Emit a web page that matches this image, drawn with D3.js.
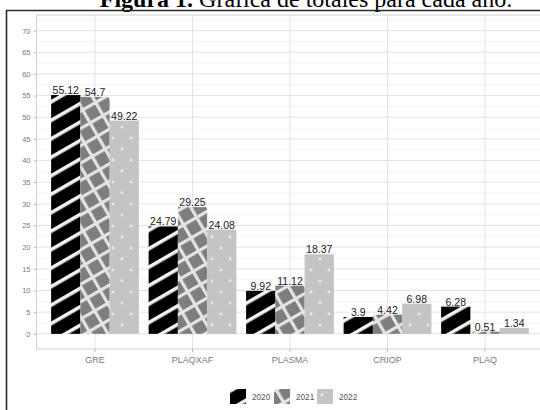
<!DOCTYPE html>
<html>
<head>
<meta charset="utf-8">
<script src="https://cdn.jsdelivr.net/npm/d3@7"></script>
<style>
  body { margin: 0; background: #fff; }
  svg { display: block; }
</style>
</head>
<body>
<div id="chart"></div>
<script>
// data
const categories = ['GRE', 'PLAQXAF', 'PLASMA', 'CRIOP', 'PLAQ'];
const years = ['2020', '2021', '2022'];
const values2020 = [55.12, 24.79, 9.92, 3.9, 6.28];
const values2021 = [54.7, 29.25, 11.12, 4.42, 0.51];
const values2022 = [49.22, 24.08, 18.37, 6.98, 1.34];
const yTicks = [0, 5, 10, 15, 20, 25, 30, 35, 40, 45, 50, 55, 60, 65, 70];

const width = 540, height = 410;
const series = [values2020, values2021, values2022];

const rows = [];
categories.forEach((c, i) => {
    years.forEach((yr, j) => rows.push({ cat: c, year: yr, value: series[j][i] }));
});

const svg = d3.select('#chart').append('svg')
    .attr('width', width)
    .attr('height', height);

// patterns for the three years
const defs = svg.append('defs');

const p1 = defs.append('pattern')
    .attr('id', 'pat2020')
    .attr('patternUnits', 'userSpaceOnUse')
    .attr('width', 16).attr('height', 16)
    .attr('patternTransform', 'rotate(-30)');
p1.append('rect').attr('width', 16).attr('height', 16).attr('fill', '#000');
p1.append('rect').attr('y', 0).attr('width', 16).attr('height', 3.6).attr('fill', '#f2f2f2');

const p2 = defs.append('pattern')
    .attr('id', 'pat2021')
    .attr('patternUnits', 'userSpaceOnUse')
    .attr('width', 15).attr('height', 15)
    .attr('patternTransform', 'rotate(-30)');
p2.append('rect').attr('width', 15).attr('height', 15).attr('fill', '#7e7e7e');
p2.append('rect').attr('y', 0).attr('width', 15).attr('height', 3.2).attr('fill', '#e4e4e4');
p2.append('rect').attr('x', 0).attr('width', 3.2).attr('height', 15).attr('fill', '#e4e4e4');

const p3 = defs.append('pattern')
    .attr('id', 'pat2022')
    .attr('patternUnits', 'userSpaceOnUse')
    .attr('width', 18).attr('height', 22);
p3.append('rect').attr('width', 18).attr('height', 22).attr('fill', '#c4c4c4');
p3.append('circle').attr('cx', 5).attr('cy', 6).attr('r', 1.4).attr('fill', '#e8e8e8');
p3.append('circle').attr('cx', 14).attr('cy', 17).attr('r', 1.4).attr('fill', '#e8e8e8');

const fillFor = { '2020': 'url(#pat2020)', '2021': 'url(#pat2021)', '2022': 'url(#pat2022)' };

// figure caption, mostly cut off above the image (as in the reference)
const cap = svg.append('text')
    .attr('x', 306)
    .attr('y', 7)
    .attr('text-anchor', 'middle')
    .style('font-family', '"Liberation Serif", "Times New Roman", serif')
    .style('font-size', '24px')
    .attr('fill', '#000');
cap.append('tspan').style('font-weight', 'bold').text('Figura 1.');
cap.append('tspan').text(' Gráfica de totales para cada año.');

// outer frame of the image
svg.append('path')
    .attr('d', `M6.5,${height} V10.5 H${width}`)
    .attr('fill', 'none')
    .attr('stroke', '#2a2a2a')
    .attr('stroke-width', 1.6);

// panel
const panel = { left: 36.5, right: 543.5, top: 15, bottom: 349 };

const y = d3.scaleLinear()
    .domain([-3.5, 73.6])
    .range([panel.bottom, panel.top]);

const x = d3.scaleBand()
    .domain(categories)
    .range([46.25, 533.75])
    .padding(0);

const xSub = d3.scaleBand()
    .domain(years)
    .range([0, x.bandwidth()])
    .paddingInner(0)
    .paddingOuter(1 / 6);

const g = svg.append('g');

// minor grid
g.selectAll('.ygrid-minor')
    .data(yTicks.map(t => t + 2.5))
    .enter().append('line')
    .attr('x1', panel.left).attr('x2', panel.right)
    .attr('y1', d => y(d)).attr('y2', d => y(d))
    .attr('stroke', '#f1f1f1').attr('stroke-width', 0.8);

// major grid
g.selectAll('.ygrid')
    .data(yTicks)
    .enter().append('line')
    .attr('x1', panel.left).attr('x2', panel.right)
    .attr('y1', d => y(d)).attr('y2', d => y(d))
    .attr('stroke', '#e3e3e3').attr('stroke-width', 1);

g.selectAll('.xgrid')
    .data(categories)
    .enter().append('line')
    .attr('x1', d => x(d) + x.bandwidth() / 2)
    .attr('x2', d => x(d) + x.bandwidth() / 2)
    .attr('y1', panel.top).attr('y2', panel.bottom)
    .attr('stroke', '#e3e3e3').attr('stroke-width', 1);

g.append('rect')
    .attr('x', panel.left).attr('y', panel.top)
    .attr('width', panel.right - panel.left)
    .attr('height', panel.bottom - panel.top)
    .attr('fill', 'none')
    .attr('stroke', '#cfcfcf');

// bars
g.selectAll('.bar')
    .data(rows)
    .enter().append('rect')
    .attr('class', 'bar')
    .attr('x', d => x(d.cat) + xSub(d.year))
    .attr('y', d => y(d.value))
    .attr('width', xSub.bandwidth())
    .attr('height', d => y(0) - y(d.value))
    .attr('fill', d => fillFor[d.year]);

// value labels
g.selectAll('.lbl')
    .data(rows)
    .enter().append('text')
    .attr('x', d => x(d.cat) + xSub(d.year) + xSub.bandwidth() / 2)
    .attr('y', d => y(d.value) - 1)
    .attr('text-anchor', 'middle')
    .style('font-family', '"Liberation Sans", Arial, sans-serif')
    .style('font-size', '10.5px')
    .attr('fill', '#222')
    .text(d => d.value);

// y axis
const yAxis = svg.append('g')
    .attr('transform', `translate(${panel.left},0)`)
    .call(d3.axisLeft(y).tickValues(yTicks).tickSize(3).tickPadding(3));
yAxis.select('.domain').remove();
yAxis.selectAll('line').attr('stroke', '#bdbdbd');
yAxis.selectAll('text')
    .style('font-family', '"Liberation Sans", Arial, sans-serif')
    .style('font-size', '7.5px')
    .attr('fill', '#7a7a7a');

// x axis
const xAxis = svg.append('g')
    .attr('transform', `translate(0,${panel.bottom})`)
    .call(d3.axisBottom(x).tickSize(3).tickPadding(5));
xAxis.select('.domain').remove();
xAxis.selectAll('line').attr('stroke', '#bdbdbd');
xAxis.selectAll('text')
    .style('font-family', '"Liberation Sans", Arial, sans-serif')
    .style('font-size', '9px')
    .attr('fill', '#7a7a7a');

// legend
const legendX = [230, 274, 317];
const legend = svg.selectAll('.legend')
    .data(years)
    .enter().append('g')
    .attr('transform', (d, i) => `translate(${legendX[i]},389)`);

legend.append('rect')
    .attr('width', 16).attr('height', 15)
    .attr('fill', d => fillFor[d]);

legend.append('text')
    .attr('x', 22).attr('y', 11)
    .style('font-family', '"Liberation Sans", Arial, sans-serif')
    .style('font-size', '8.2px')
    .attr('fill', '#555')
    .text(d => d);
</script>
</body>
</html>
